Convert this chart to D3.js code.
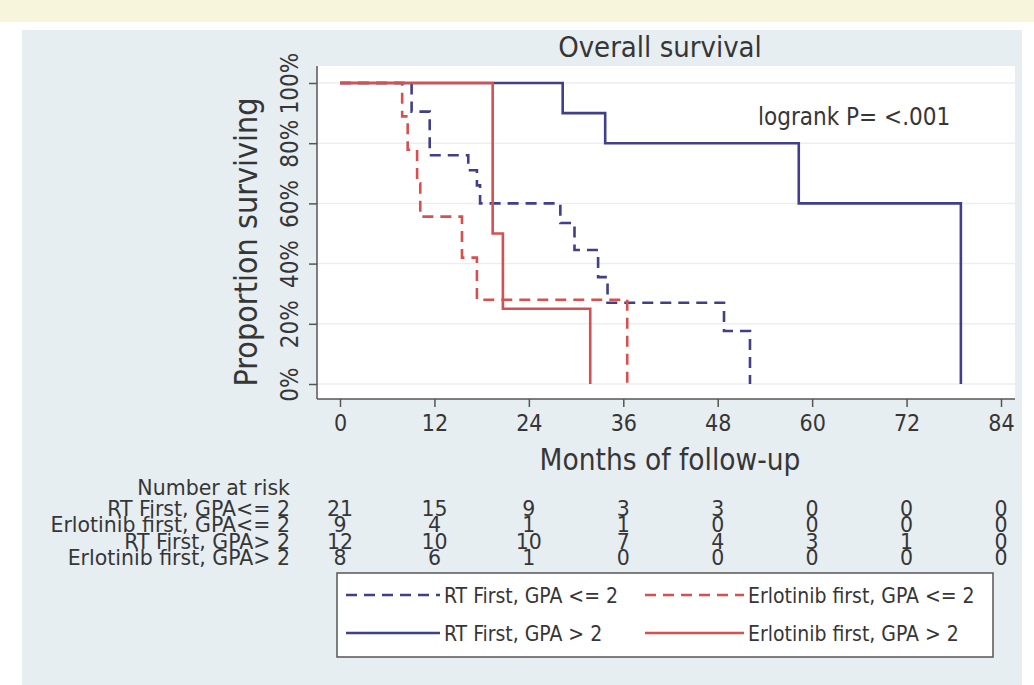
<!DOCTYPE html>
<html><head><meta charset="utf-8">
<script src="https://cdn.jsdelivr.net/npm/d3@7"></script>
<style>
html,body{margin:0;padding:0;background:#fff;}
svg text{font-family:"DejaVu Sans Condensed","DejaVu Sans",sans-serif;font-stretch:condensed;fill:#363636;}
svg text.rk{font-family:"DejaVu Sans",sans-serif;font-stretch:normal;}
</style></head><body>
<svg id="c" width="1034" height="685"></svg>
<script>
// ---------- data ----------
const months = [0, 12, 24, 36, 48, 60, 72, 84];
const yTicks = [0, 0.2, 0.4, 0.6, 0.8, 1];
const yTickLabels = ["0%", "20%", "40%", "60%", "80%", "100%"];
const seriesNames = ["RT First, GPA <= 2", "Erlotinib first, GPA <= 2", "RT First, GPA > 2", "Erlotinib first, GPA > 2"];
const riskLabels = ["RT First, GPA<= 2", "Erlotinib first, GPA<= 2", "RT First, GPA> 2", "Erlotinib first, GPA> 2"];
const riskRtLe2  = [21, 15, 9, 3, 3, 0, 0, 0];
const riskErlLe2 = [9, 4, 1, 1, 0, 0, 0, 0];
const riskRtGt2  = [12, 10, 10, 7, 4, 3, 1, 0];
const riskErlGt2 = [8, 6, 1, 0, 0, 0, 0, 0];
// Kaplan-Meier step curves (time in months, proportion surviving)
const timesRtLe2  = [0, 9.1, 11.4, 16.3, 17.4, 17.8, 28.0, 29.8, 32.8, 34.0, 48.8, 52.1];
const survRtLe2   = [1, 0.905, 0.76, 0.71, 0.66, 0.60, 0.535, 0.445, 0.355, 0.27, 0.176, 0];
const timesErlLe2 = [0, 7.9, 8.6, 9.8, 10.2, 15.5, 17.4, 36.5];
const survErlLe2  = [1, 0.889, 0.778, 0.667, 0.556, 0.42, 0.28, 0];
const timesRtGt2  = [0, 28.3, 33.7, 58.3, 78.9];
const survRtGt2   = [1, 0.9, 0.8, 0.6, 0];
const timesErlGt2 = [0, 19.4, 20.7, 31.8];
const survErlGt2  = [1, 0.5, 0.25, 0];
const titleText = "Overall survival";
const pText = "logrank P= <.001";

// ---------- styles ----------
const BLUE = "#3f3f8a", RED = "#d6504f";
const series = [
  {name: seriesNames[0], t: timesRtLe2,  s: survRtLe2,  color: BLUE, dash: "11,7"},
  {name: seriesNames[1], t: timesErlLe2, s: survErlLe2, color: RED,  dash: "11,7"},
  {name: seriesNames[2], t: timesRtGt2,  s: survRtGt2,  color: BLUE, dash: null},
  {name: seriesNames[3], t: timesErlGt2, s: survErlGt2, color: RED,  dash: null}
];
const risk = [riskRtLe2, riskErlLe2, riskRtGt2, riskErlGt2];

const svg = d3.select("#c");
svg.append("rect").attr("x",0).attr("y",0).attr("width",1034).attr("height",22).attr("fill","#f7f5dc");
svg.append("rect").attr("x",22).attr("y",30).attr("width",1000).attr("height",655).attr("fill","#e7eef2");

const plotL = 317, plotR = 1015, plotT = 66, plotB = 399;
svg.append("rect").attr("x",plotL).attr("y",plotT).attr("width",plotR-plotL).attr("height",plotB-plotT).attr("fill","#fff");

const x = d3.scaleLinear().domain([0, 84]).range([340, 1001]);
const y = d3.scaleLinear().domain([0, 1]).range([384, 83]);

// grid
svg.append("g").selectAll("line").data(yTicks).join("line")
  .attr("x1", plotL).attr("x2", plotR).attr("y1", d=>y(d)).attr("y2", d=>y(d))
  .attr("stroke", "#eceef0").attr("stroke-width", 1.5);

// axes
const ya = svg.append("g").attr("transform", `translate(${plotL},0)`)
  .call(d3.axisLeft(y).tickValues(yTicks).tickSize(8).tickFormat((d,i)=>yTickLabels[i]));
ya.select(".domain").remove();
ya.selectAll(".tick line").attr("stroke","#555").attr("stroke-width",1.5);
ya.selectAll(".tick text").attr("x",0).attr("y",0).attr("dy",0)
  .attr("text-anchor","middle").attr("transform","translate(-19,0) rotate(-90)")
  .style("font-size","24px");

const xa = svg.append("g").attr("transform", `translate(0,${plotB})`)
  .call(d3.axisBottom(x).tickValues(months).tickSize(8).tickPadding(8));
xa.select(".domain").remove();
xa.selectAll(".tick line").attr("stroke","#555").attr("stroke-width",1.5);
xa.selectAll(".tick text").style("font-size","23px");

svg.append("line").attr("x1",plotL).attr("x2",plotL).attr("y1",plotT).attr("y2",plotB).attr("stroke","#555").attr("stroke-width",1.5);
svg.append("line").attr("x1",plotL).attr("x2",plotR).attr("y1",plotB).attr("y2",plotB).attr("stroke","#555").attr("stroke-width",1.5);

// curves
const line = d3.line().x(d=>x(d[0])).y(d=>y(d[1])).curve(d3.curveStepAfter);
series.forEach(sr => {
  const pts = sr.t.map((t,i)=>[t, sr.s[i]]);
  svg.append("path").datum(pts).attr("d", line).attr("fill","none")
    .attr("stroke", sr.color).attr("stroke-width", 2.6)
    .attr("stroke-dasharray", sr.dash);
});

// titles
svg.append("text").attr("x",660).attr("y",57).attr("text-anchor","middle").style("font-size","29px").text(titleText);
svg.append("text").attr("transform","translate(257,242) rotate(-90)").attr("text-anchor","middle").style("font-size","32px").text("Proportion surviving");
svg.append("text").attr("x",670).attr("y",470).attr("text-anchor","middle").style("font-size","29.5px").text("Months of follow-up");
svg.append("text").attr("x",758).attr("y",125).style("font-size","24px").text(pText);

// risk table
const rowY = [516, 532, 549, 565];
svg.append("text").attr("class","rk").attr("x",290).attr("y",495).attr("text-anchor","end").style("font-size","20.5px").text("Number at risk");
riskLabels.forEach((lab,i)=>{
  svg.append("text").attr("class","rk").attr("x",290).attr("y",rowY[i]).attr("text-anchor","end").style("font-size","20.5px").text(lab);
  svg.append("g").selectAll("text").data(risk[i]).join("text").attr("class","rk")
    .attr("x",(d,j)=>x(months[j])).attr("y",rowY[i]).attr("text-anchor","middle")
    .style("font-size","20.5px").text(d=>d);
});

// legend
const lg = svg.append("g");
lg.append("rect").attr("x",337).attr("y",573).attr("width",656).attr("height",84)
  .attr("fill","#fff").attr("stroke","#555").attr("stroke-width",1.5);
const legPos = [[346,595],[645,595],[346,633],[645,633]];
series.forEach((sr,i)=>{
  const [lx,ly] = legPos[i];
  const len = i%2===0 ? 94 : 99;
  lg.append("line").attr("x1",lx).attr("x2",lx+len).attr("y1",ly).attr("y2",ly)
    .attr("stroke",sr.color).attr("stroke-width",2.6).attr("stroke-dasharray",sr.dash);
  lg.append("text").attr("x",lx+len+4).attr("y",ly+7.5).style("font-size","21px").text(sr.name);
});
</script>
</body></html>
